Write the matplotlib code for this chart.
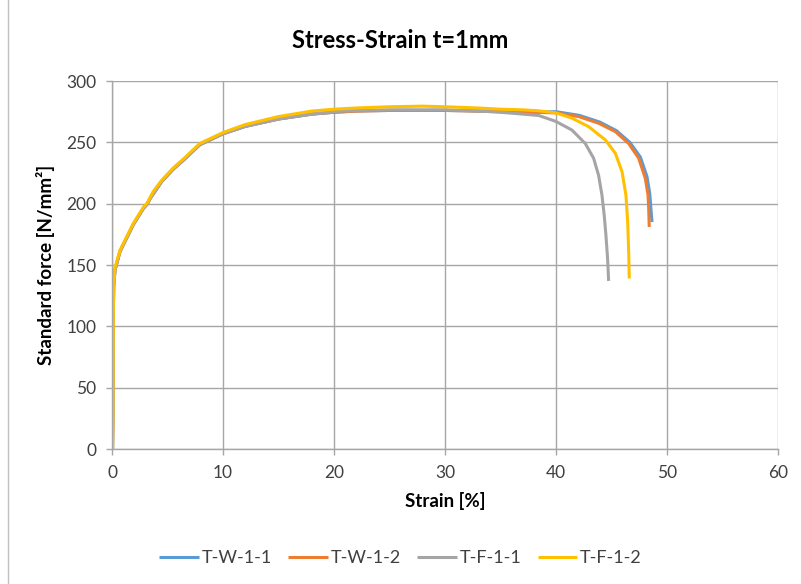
import matplotlib
matplotlib.use("Agg")
import matplotlib.pyplot as plt
from matplotlib.lines import Line2D

# values: strain [%] and stress [N/mm²] per specimen
RISE_STRAIN = [0.05, 0.08, 0.1, 0.12, 0.15, 0.27, 0.72, 1.32, 1.92, 2.82, 3.2, 3.42, 3.72, 4.47,
               5.5, 6.5, 7.9, 10.0, 12.0, 15.0, 18.0, 20.0, 22.0, 25.0, 28.0, 30.0, 33.0, 35.0, 38.0]
RISE_STRESS = [0, 25, 60, 110, 132, 146, 161, 172, 183, 196, 200, 204, 208, 218,
               228, 236, 248, 257, 263, 269, 273, 274.5, 275.5, 276, 276, 276, 275.5, 275, 274.5]

TW11_STRAIN = RISE_STRAIN + [40.0, 42.1, 43.95, 45.45, 46.65, 47.6, 48.2, 48.45, 48.55, 48.65]
TW11_STRESS = RISE_STRESS + [275, 272, 266.5, 259.5, 250, 238, 222, 208, 196, 185]

TW12_STRAIN = RISE_STRAIN + [40.0, 42.04, 43.84, 45.35, 46.55, 47.45, 48.05, 48.29, 48.35, 48.4]
TW12_STRESS = RISE_STRESS + [274, 271, 265.6, 258.7, 249, 237, 220.5, 207, 196, 181]

TF11_STRAIN = [0.05, 0.08, 0.1, 0.12, 0.15, 0.27, 0.72, 1.32, 1.92, 2.82, 3.2, 3.42, 3.72, 4.47,
               5.5, 6.5, 7.9, 10.0, 12.0, 15.0, 18.0, 20.0, 22.0, 25.0, 28.0, 30.0, 33.0, 35.0, 37.0,
               38.44, 40.0, 41.44, 42.64, 43.39, 43.84, 44.14, 44.35, 44.5, 44.65, 44.74]
TF11_STRESS = [0, 25, 60, 110, 132, 146, 161, 172, 183, 196, 200, 204, 208, 218,
               228, 236, 248, 257, 263, 269, 273, 275, 276, 276.5, 276.5, 276.5, 275.5, 274.5, 273,
               271.9, 267, 260, 249, 237, 223, 207, 190, 174, 155, 137]

TF12_STRAIN = [0.05, 0.08, 0.1, 0.12, 0.15, 0.27, 0.72, 1.32, 1.92, 2.82, 3.2, 3.42, 3.72, 4.47,
               5.5, 6.5, 7.9, 10.0, 12.0, 15.0, 18.0, 20.0, 22.0, 25.0, 28.0, 30.0, 33.0, 35.0, 37.0,
               38.44, 40.0, 41.44, 42.94, 44.44, 45.35, 45.95, 46.3, 46.46, 46.55, 46.6]
TF12_STRESS = [0, 25, 60, 110, 133, 148, 162, 173, 184, 197, 201, 205, 210, 219,
               229, 237, 249, 258, 264.5, 271, 275.5, 277, 278, 279, 279.5, 279, 278, 277, 276.5,
               275.7, 274, 269.7, 262.8, 252, 241, 226, 207, 185, 160, 139]

LABELS = ["T-W-1-1", "T-W-1-2", "T-F-1-1", "T-F-1-2"]
COLORS = ["#5B9BD5", "#ED7D31", "#A5A5A5", "#FFC000"]

X_TICKS = [0, 10, 20, 30, 40, 50, 60]
Y_TICKS = [0, 50, 100, 150, 200, 250, 300]

TEXT = "#404040"
GRID = "#A6A6A6"

plt.rcParams["font.family"] = ["Lato", "DejaVu Sans"]

fig = plt.figure(figsize=(8.01, 5.84), dpi=100, facecolor="white")
ax = fig.add_axes([112 / 801, 1 - 449 / 584, 666 / 801, 368 / 584])

series = [(TW11_STRAIN, TW11_STRESS), (TW12_STRAIN, TW12_STRESS),
          (TF11_STRAIN, TF11_STRESS), (TF12_STRAIN, TF12_STRESS)]
for (xs, ys), lab, col in zip(series, LABELS, COLORS):
    ax.plot(xs, ys, color=col, lw=2.2, label=lab, solid_capstyle="butt")

ax.set_xlim(0, 60)
ax.set_ylim(0, 300)
ax.set_xticks(X_TICKS)
ax.set_yticks(Y_TICKS)
ax.tick_params(axis="both", direction="out", length=4.3, width=1, color=GRID,
               labelsize=12.5, labelcolor=TEXT, pad=7)
ax.grid(True, color=GRID, lw=1)
ax.set_axisbelow(True)
for s in ["top", "right"]:
    ax.spines[s].set_visible(False)
for s in ["left", "bottom"]:
    ax.spines[s].set_color(GRID)
    ax.spines[s].set_linewidth(1)

ax.set_xlabel("Strain [%]", fontsize=13.5, fontweight="bold", color="black", labelpad=8)
ax.set_ylabel("Standard force [N/mm²]", fontsize=13.5, fontweight="bold", color="black", labelpad=8)
fig.text(0.5, 1 - 40 / 584, "Stress-Strain t=1mm", ha="center", va="center",
         fontsize=17, fontweight="bold", color="black")

fig.legend(loc="center", bbox_to_anchor=(0.5, 1 - 558 / 584), ncol=4, frameon=False,
           fontsize=13, handlelength=2.2, columnspacing=0.9, handletextpad=0.15,
           labelcolor=TEXT)

fig.add_artist(Line2D([8 / 801, 8 / 801], [0, 1], color="#BFBFBF", lw=1,
                      transform=fig.transFigure))

fig.savefig("out.png", dpi=100, facecolor="white")
